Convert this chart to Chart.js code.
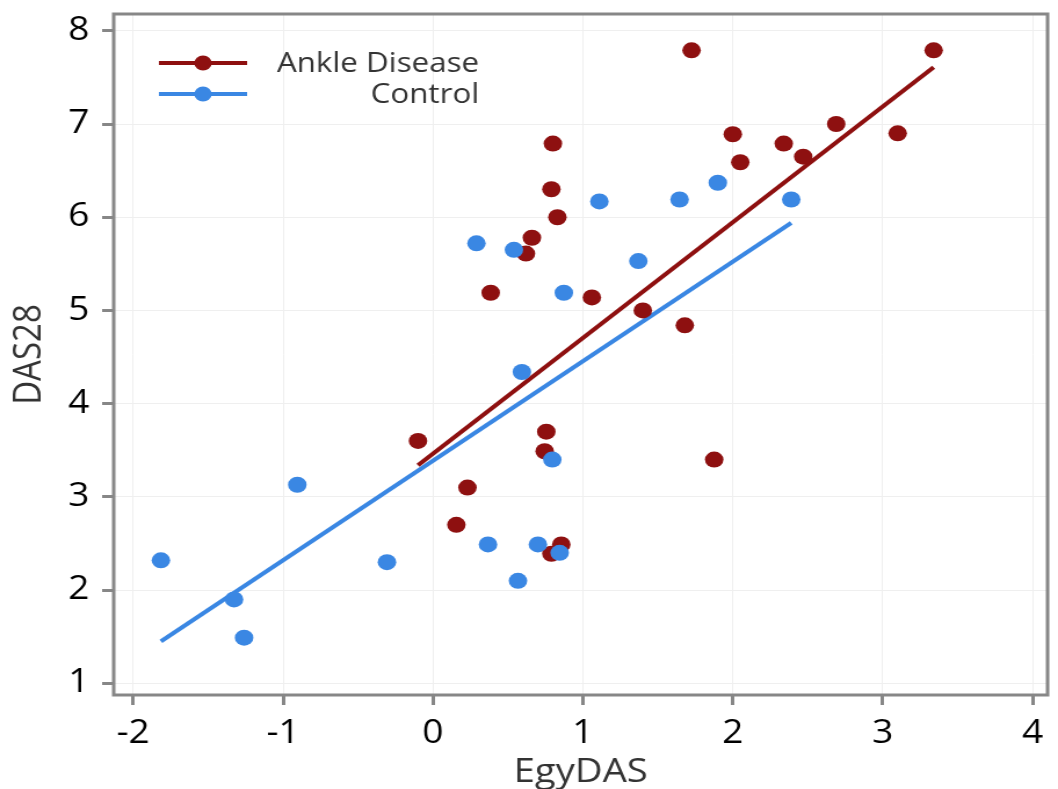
<!DOCTYPE html>
<html>
<head>
<meta charset="utf-8">
<title>DAS28 vs EgyDAS</title>
<script src="https://cdn.jsdelivr.net/npm/chart.js@4"></script>
<style>
  body { margin: 0; background: #fff; }
  #wrap { width: 1058px; height: 789px; overflow: hidden; }
  /* the original figure is stretched sideways, so the canvas is drawn narrower and widened */
  #scatterChart { display: block; width: 1058px; height: 789px; }
</style>
</head>
<body>
<div id="wrap"><canvas id="scatterChart" width="912" height="789" style="width:1058px;height:789px"></canvas></div>
<script>
// values
const ankleX = [0.80, 0.79, 0.83, 0.66, 0.62, 0.385, 1.06, 1.725, 3.34, 2.0, 2.69, 2.34, 3.10, 2.05, 2.47, 1.40, 1.68, -0.10, 0.756, 0.745, 0.23, 0.156, 0.856, 0.79, 1.876];
const ankleY = [6.79, 6.30, 6.00, 5.78, 5.61, 5.19, 5.14, 7.79, 7.79, 6.89, 7.00, 6.79, 6.90, 6.59, 6.65, 5.00, 4.84, 3.60, 3.70, 3.49, 3.10, 2.70, 2.49, 2.39, 3.40];

const controlX = [0.29, 0.54, 0.873, 0.593, 1.11, 1.645, 1.90, 2.39, 1.37, -1.815, -0.905, -1.327, -1.26, -0.307, 0.367, 0.567, 0.70, 0.845, 0.796];
const controlY = [5.72, 5.65, 5.19, 4.34, 6.17, 6.19, 6.37, 6.19, 5.53, 2.32, 3.13, 1.90, 1.49, 2.30, 2.49, 2.10, 2.49, 2.40, 3.40];

// fitted lines (end points)
const ankleFitX = [-0.10, 3.34];
const ankleFitY = [3.34, 7.61];
const controlFitX = [-1.815, 2.39];
const controlFitY = [1.45, 5.94];

const xTicks = [-2, -1, 0, 1, 2, 3, 4];
const yTicks = [1, 2, 3, 4, 5, 6, 7, 8];

const seriesNames = ['Ankle Disease', 'Control'];
const RED = '#8e1010';
const BLUE = '#3a87e3';
const FONT = 'Open Sans';

const toPoints = (xs, ys) => xs.map((x, i) => ({ x: x, y: ys[i] }));

// box around the plot area
const framePlugin = {
  id: 'frame',
  afterDraw(chart) {
    const { ctx, chartArea: a } = chart;
    ctx.save();
    ctx.strokeStyle = '#878787';
    ctx.lineWidth = 3;
    ctx.strokeRect(a.left, a.top, a.right - a.left, a.bottom - a.top);
    ctx.restore();
  },
};

// legend sits inside the plot, top left
const legendPlugin = {
  id: 'insideLegend',
  afterDraw(chart) {
    const ctx = chart.ctx;
    const rows = [
      { name: seriesNames[0], color: RED, y: 63 },
      { name: seriesNames[1], color: BLUE, y: 94 },
    ];
    ctx.save();
    rows.forEach((r) => {
      ctx.strokeStyle = r.color;
      ctx.lineWidth = 4;
      ctx.beginPath();
      ctx.moveTo(137, r.y);
      ctx.lineTo(213, r.y);
      ctx.stroke();
      ctx.fillStyle = r.color;
      ctx.beginPath();
      ctx.arc(175, r.y, 7.5, 0, Math.PI * 2);
      ctx.fill();
      ctx.fillStyle = '#333';
      ctx.font = '27px "' + FONT + '"';
      ctx.textAlign = 'right';
      ctx.textBaseline = 'middle';
      ctx.fillText(r.name, 413, r.y + 1);
    });
    ctx.restore();
  },
};

const ctx = document.getElementById('scatterChart').getContext('2d');

new Chart(ctx, {
  type: 'scatter',
  data: {
    datasets: [
      {
        label: seriesNames[1],
        data: toPoints(controlX, controlY),
        backgroundColor: BLUE,
        borderWidth: 0,
        pointRadius: 8,
        order: 0,
      },
      {
        label: seriesNames[0],
        data: toPoints(ankleX, ankleY),
        backgroundColor: RED,
        borderWidth: 0,
        pointRadius: 8,
        order: 1,
      },
      {
        type: 'line',
        label: 'Ankle fit',
        data: toPoints(ankleFitX, ankleFitY),
        borderColor: RED,
        borderWidth: 4,
        pointRadius: 0,
        fill: false,
        order: 2,
      },
      {
        type: 'line',
        label: 'Control fit',
        data: toPoints(controlFitX, controlFitY),
        borderColor: BLUE,
        borderWidth: 4,
        pointRadius: 0,
        fill: false,
        order: 3,
      },
    ],
  },
  options: {
    responsive: false,
    animation: false,
    layout: { padding: { left: 0, top: 14, right: 9, bottom: 0 } },
    plugins: {
      legend: { display: false },
      tooltip: { enabled: false },
    },
    scales: {
      x: {
        type: 'linear',
        min: -2.13,
        max: 4.1,
        afterBuildTicks: (scale) => {
          scale.ticks = xTicks.map((v) => ({ value: v }));
        },
        afterFit: (scale) => {
          scale.height = 94;
          scale.paddingLeft = 0;
          scale.paddingRight = 0;
        },
        border: { display: false },
        grid: {
          color: '#efefef',
          lineWidth: 1,
          tickColor: '#878787',
          tickWidth: 3,
          tickLength: 10,
        },
        ticks: {
          color: '#000',
          font: { family: FONT, size: 32 },
          padding: 10,
        },
        title: {
          display: true,
          text: 'EgyDAS',
          color: '#333',
          font: { family: FONT, size: 33 },
          padding: { top: 0, bottom: -3 },
        },
      },
      y: {
        type: 'linear',
        min: 0.875,
        max: 8.18,
        afterBuildTicks: (scale) => {
          scale.ticks = yTicks.map((v) => ({ value: v }));
        },
        afterFit: (scale) => {
          scale.width = 98;
          scale.paddingTop = 0;
          scale.paddingBottom = 0;
        },
        border: { display: false },
        grid: {
          color: '#efefef',
          lineWidth: 1,
          tickColor: '#878787',
          tickWidth: 3,
          tickLength: 10,
        },
        ticks: {
          color: '#000',
          font: { family: FONT, size: 32 },
          padding: 11,
        },
        title: {
          display: true,
          text: 'DAS28',
          color: '#333',
          font: { family: FONT, size: 33 },
          padding: { top: 6, bottom: 0 },
        },
      },
    },
  },
  plugins: [framePlugin, legendPlugin],
});
</script>
</body>
</html>
